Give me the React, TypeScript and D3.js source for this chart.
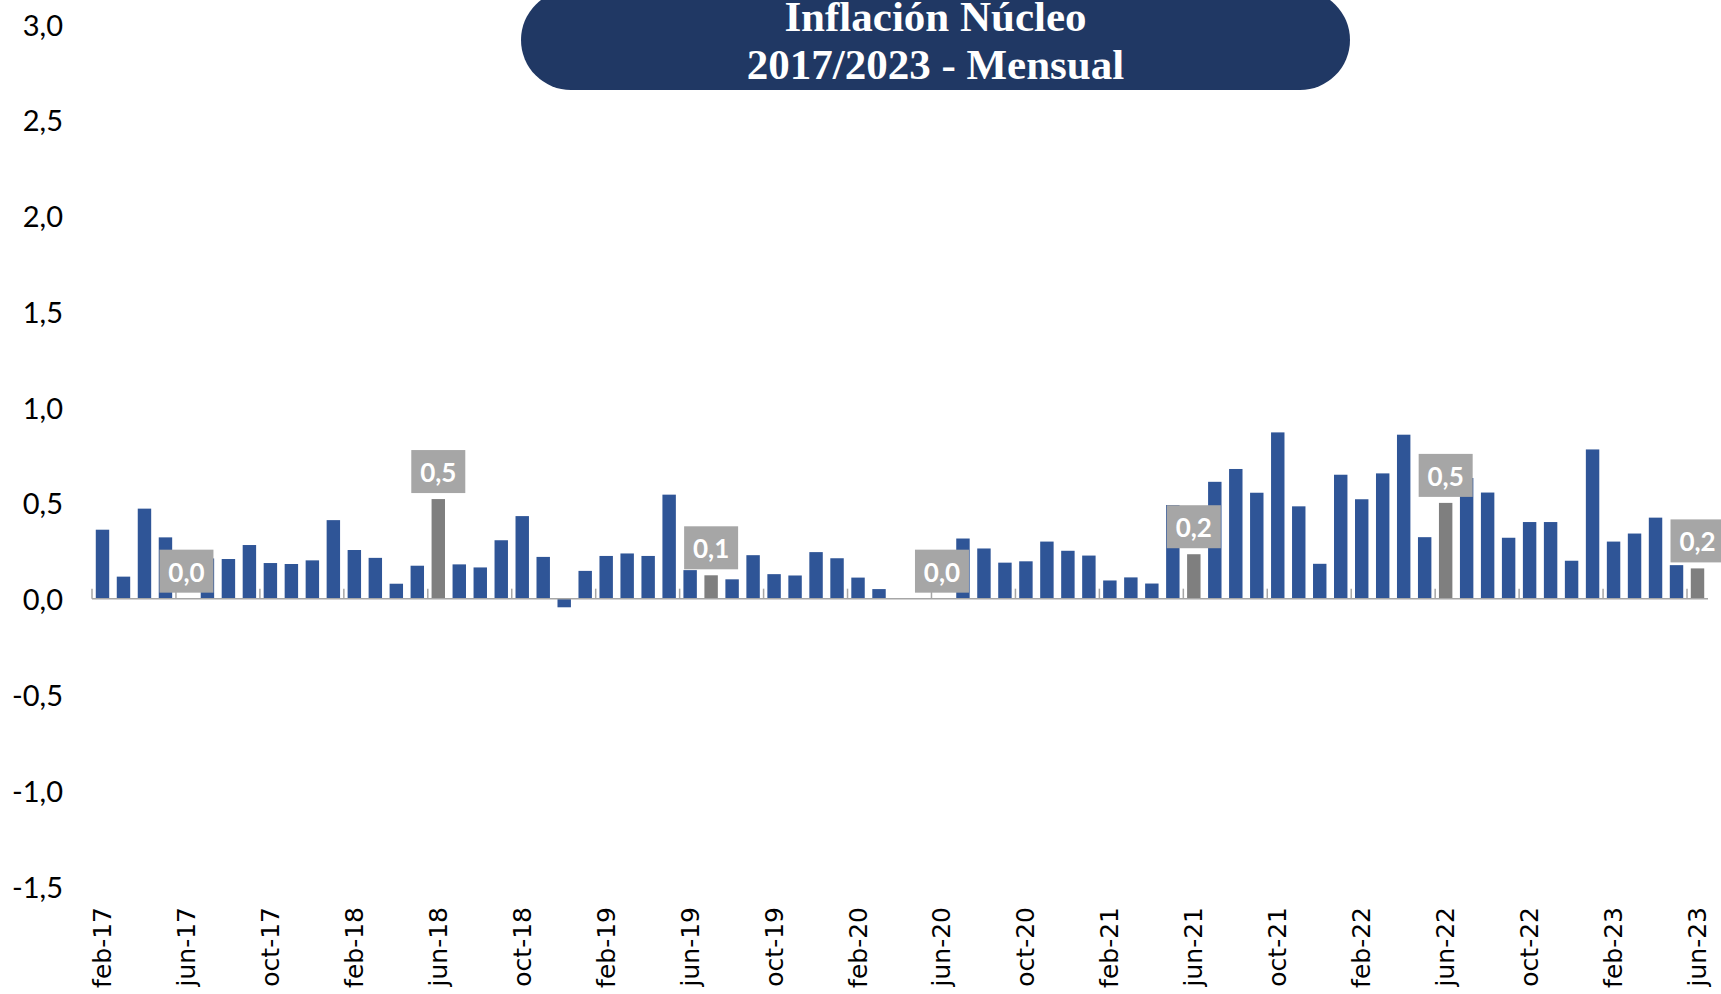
import React, { useEffect, useRef } from "react";
import { select, scaleBand, scaleLinear } from "d3";

const CATEGORIES = [
  "feb-17", "mar-17", "abr-17", "may-17", "jun-17", "jul-17", "ago-17", "sep-17", "oct-17", "nov-17", "dic-17",
  "ene-18", "feb-18", "mar-18", "abr-18", "may-18", "jun-18", "jul-18", "ago-18", "sep-18", "oct-18", "nov-18", "dic-18",
  "ene-19", "feb-19", "mar-19", "abr-19", "may-19", "jun-19", "jul-19", "ago-19", "sep-19", "oct-19", "nov-19", "dic-19",
  "ene-20", "feb-20", "mar-20", "abr-20", "may-20", "jun-20", "jul-20", "ago-20", "sep-20", "oct-20", "nov-20", "dic-20",
  "ene-21", "feb-21", "mar-21", "abr-21", "may-21", "jun-21", "jul-21", "ago-21", "sep-21", "oct-21", "nov-21", "dic-21",
  "ene-22", "feb-22", "mar-22", "abr-22", "may-22", "jun-22", "jul-22", "ago-22", "sep-22", "oct-22", "nov-22", "dic-22",
  "ene-23", "feb-23", "mar-23", "abr-23", "may-23", "jun-23",
];

// variación mensual, en %
const VALUES = [
  0.36, 0.115, 0.47, 0.32, 0.0, 0.21, 0.207, 0.28, 0.186, 0.181, 0.2,
  0.41, 0.254, 0.213, 0.078, 0.172, 0.52, 0.179, 0.163, 0.305, 0.431, 0.218, -0.045,
  0.145, 0.223, 0.236, 0.223, 0.543, 0.149, 0.122, 0.101, 0.227, 0.128, 0.121, 0.243,
  0.211, 0.11, 0.05, 0, 0, 0.0, 0.314, 0.262, 0.188, 0.195, 0.298, 0.25,
  0.225, 0.095, 0.111, 0.079, 0.489, 0.232, 0.61, 0.677, 0.553, 0.868, 0.482, 0.182,
  0.647, 0.519, 0.654, 0.856, 0.321, 0.5, 0.63, 0.554, 0.318, 0.4, 0.4, 0.198,
  0.779, 0.298, 0.34, 0.423, 0.175, 0.158,
];

// barras grises con etiqueta
const HIGHLIGHTED = ["jun-17", "jun-18", "jul-19", "jun-20", "jun-21", "jun-22", "jun-23"];

const TICK_LABELS = [
  "feb-17", "jun-17", "oct-17", "feb-18", "jun-18", "oct-18", "feb-19", "jun-19", "oct-19", "feb-20",
  "jun-20", "oct-20", "feb-21", "jun-21", "oct-21", "feb-22", "jun-22", "oct-22", "feb-23", "jun-23",
];

const Y_TICKS = [-1.5, -1, -0.5, 0, 0.5, 1, 1.5, 2, 2.5, 3];

const TITLE_LINES = ["Inflación Núcleo", "2017/2023 - Mensual"];

const W = 1721;
const H = 994;

const fmt = (v: number) => v.toFixed(1).replace(".", ",");

const App = () => {
  const svgRef = useRef<SVGSVGElement>(null);

  useEffect(() => {
    const svg = select(svgRef.current);

    const xScale = scaleBand<string>()
      .domain(CATEGORIES)
      .range([92, 1708])
      .paddingInner(0.36)
      .paddingOuter(0.18);
    const yScale = scaleLinear().domain([-1.5, 3]).range([886, 24]);
    const bw = xScale.bandwidth();
    const gap = (xScale.step() - bw) / 2;
    const data = CATEGORIES.map((c, i) => ({ c, v: VALUES[i], hi: HIGHLIGHTED.includes(c) }));

    // eje y
    svg
      .select(".y-axis")
      .selectAll("text")
      .data(Y_TICKS)
      .join("text")
      .attr("x", 63)
      .attr("y", (d) => yScale(d))
      .attr("text-anchor", "end")
      .attr("dominant-baseline", "central")
      .style("font", "29px Lato")
      .attr("fill", "#000")
      .text(fmt);

    // barras
    svg
      .select(".bars")
      .selectAll("rect")
      .data(data)
      .join("rect")
      .attr("x", (d) => xScale(d.c)!)
      .attr("width", bw)
      .attr("y", (d) => yScale(Math.max(0, d.v)))
      .attr("height", (d) => Math.abs(yScale(d.v) - yScale(0)))
      .attr("fill", (d) => (d.hi ? "#7f7f7f" : "#2f5597"));

    // eje x
    const xAxis = svg.select(".x-axis");
    xAxis
      .selectAll("line.base")
      .data([0])
      .join("line")
      .attr("class", "base")
      .attr("x1", 92)
      .attr("x2", 1708)
      .attr("y1", yScale(0))
      .attr("y2", yScale(0))
      .attr("stroke", "#a6a6a6")
      .attr("stroke-width", 1.5);
    xAxis
      .selectAll("line.tick")
      .data(TICK_LABELS)
      .join("line")
      .attr("class", "tick")
      .attr("x1", (d) => xScale(d)! - gap)
      .attr("x2", (d) => xScale(d)! - gap)
      .attr("y1", yScale(0))
      .attr("y2", yScale(0) - 10)
      .attr("stroke", "#a6a6a6")
      .attr("stroke-width", 1.5);
    xAxis
      .selectAll("text")
      .data(TICK_LABELS)
      .join("text")
      .attr("transform", (d) => `translate(${xScale(d)! + bw / 2},907) rotate(-90)`)
      .attr("text-anchor", "end")
      .attr("dominant-baseline", "central")
      .style("font", "25px 'DejaVu Sans'")
      .attr("fill", "#000")
      .text((d) => d);

    // etiquetas
    const lab = svg
      .select(".labels")
      .selectAll("g")
      .data(data.filter((d) => d.hi))
      .join("g")
      .attr(
        "transform",
        (d) => `translate(${xScale(d.c)! + bw / 2},${yScale(Math.max(0, d.v)) - 6})`
      );
    lab
      .selectAll("rect")
      .data((d) => [d])
      .join("rect")
      .attr("x", -27)
      .attr("y", -43)
      .attr("width", 54)
      .attr("height", 43)
      .attr("fill", "#a6a6a6");
    lab
      .selectAll("text")
      .data((d) => [d])
      .join("text")
      .attr("y", -21)
      .attr("text-anchor", "middle")
      .attr("dominant-baseline", "central")
      .style("font", "bold 26px Lato")
      .attr("fill", "#fff")
      .text((d) => fmt(d.v));
  }, []);

  return (
    <svg
      ref={svgRef}
      width={W}
      height={H}
      style={{ position: "absolute", left: 0, top: 0, display: "block", background: "#fff" }}
    >
      <g className="y-axis" />
      <g className="bars" />
      <g className="x-axis" />
      <g className="labels" />
      <g className="title">
        <rect x={521} y={-10} width={829} height={100} rx={50} fill="#203864" />
        {TITLE_LINES.map((t, i) => (
          <text
            key={t}
            x={935.5}
            y={31 + i * 48}
            textAnchor="middle"
            fill="#fff"
            style={{ font: "bold 43px 'Liberation Serif'" }}
          >
            {t}
          </text>
        ))}
      </g>
    </svg>
  );
};

export default App;
